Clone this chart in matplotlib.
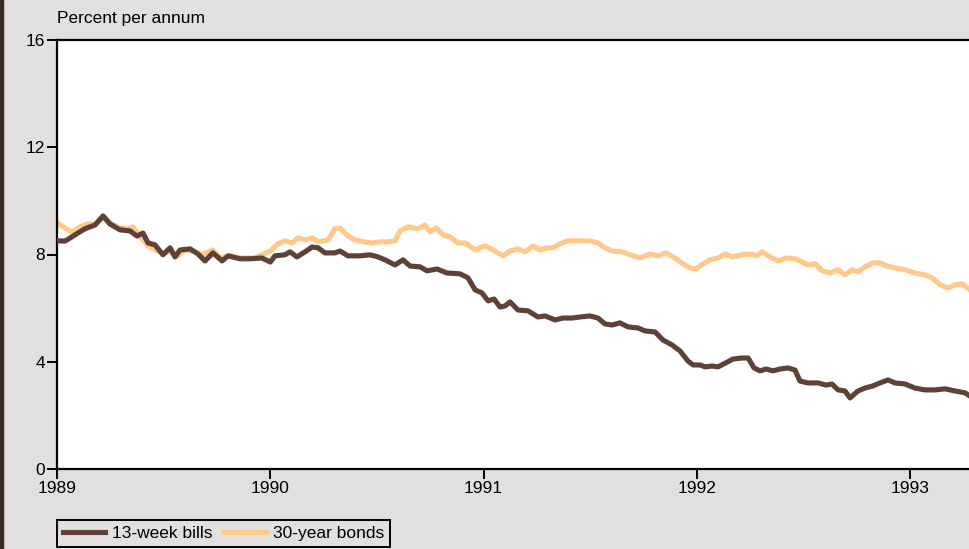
import matplotlib
matplotlib.use("Agg")
import matplotlib.pyplot as plt
import numpy as np

plt.rcParams['font.family'] = ['Liberation Sans', 'DejaVu Sans']

# years since January 1989
bills_t = [0.000, 0.038, 0.084, 0.131, 0.178, 0.216, 0.248, 0.295, 0.342, 0.375,
           0.403, 0.427, 0.459, 0.497, 0.530, 0.553, 0.577, 0.624, 0.661, 0.694,
           0.731, 0.774, 0.802, 0.858, 0.905, 0.961, 1.000, 1.022, 1.069, 1.092,
           1.125, 1.163, 1.196, 1.224, 1.256, 1.303, 1.327, 1.364, 1.421, 1.467,
           1.505, 1.538, 1.585, 1.622, 1.655, 1.702, 1.735, 1.782, 1.828, 1.889,
           1.927, 1.960, 1.992, 2.021, 2.049, 2.077, 2.100, 2.124, 2.161, 2.208,
           2.255, 2.288, 2.335, 2.372, 2.414, 2.452, 2.499, 2.536, 2.569, 2.602,
           2.639, 2.677, 2.724, 2.757, 2.804, 2.841, 2.883, 2.921, 2.958, 2.982,
           3.015, 3.038, 3.071, 3.099, 3.136, 3.169, 3.211, 3.240, 3.268, 3.296,
           3.324, 3.357, 3.390, 3.427, 3.460, 3.483, 3.521, 3.568, 3.605, 3.633,
           3.662, 3.694, 3.718, 3.755, 3.788, 3.826, 3.858, 3.896, 3.929, 3.976,
           4.022, 4.069, 4.116, 4.163, 4.210, 4.257, 4.280]
bills = [8.51, 8.50, 8.73, 8.96, 9.10, 9.44, 9.14, 8.92, 8.88, 8.69,
         8.80, 8.43, 8.36, 7.99, 8.25, 7.91, 8.17, 8.21, 8.02, 7.76,
         8.06, 7.76, 7.95, 7.84, 7.84, 7.87, 7.72, 7.95, 7.99, 8.10,
         7.91, 8.10, 8.28, 8.25, 8.06, 8.06, 8.13, 7.95, 7.95, 7.99,
         7.91, 7.80, 7.61, 7.80, 7.57, 7.54, 7.39, 7.46, 7.31, 7.28,
         7.13, 6.68, 6.57, 6.27, 6.34, 6.04, 6.08, 6.23, 5.93, 5.90,
         5.67, 5.71, 5.56, 5.63, 5.63, 5.67, 5.71, 5.63, 5.41, 5.37,
         5.45, 5.30, 5.26, 5.15, 5.11, 4.81, 4.63, 4.40, 4.03, 3.88,
         3.88, 3.81, 3.84, 3.81, 3.96, 4.10, 4.14, 4.14, 3.77, 3.66,
         3.73, 3.66, 3.73, 3.77, 3.69, 3.28, 3.21, 3.21, 3.13, 3.17,
         2.95, 2.91, 2.65, 2.91, 3.02, 3.10, 3.21, 3.32, 3.21, 3.17,
         3.02, 2.95, 2.95, 2.99, 2.91, 2.84, 2.72]

bonds_t = [0.000, 0.038, 0.070, 0.108, 0.145, 0.183, 0.216, 0.258, 0.295, 0.333,
           0.356, 0.389, 0.427, 0.459, 0.497, 0.530, 0.567, 0.600, 0.647, 0.680,
           0.731, 0.764, 0.811, 0.858, 0.928, 0.961, 1.000, 1.036, 1.069, 1.102,
           1.130, 1.163, 1.196, 1.224, 1.271, 1.303, 1.327, 1.364, 1.397, 1.444,
           1.477, 1.514, 1.552, 1.585, 1.608, 1.646, 1.692, 1.725, 1.749, 1.777,
           1.810, 1.842, 1.880, 1.917, 1.960, 1.983, 2.007, 2.044, 2.091, 2.124,
           2.161, 2.194, 2.232, 2.264, 2.297, 2.325, 2.358, 2.396, 2.443, 2.499,
           2.536, 2.569, 2.602, 2.649, 2.686, 2.733, 2.780, 2.818, 2.855, 2.897,
           2.935, 2.968, 2.996, 3.029, 3.061, 3.099, 3.132, 3.165, 3.211, 3.249,
           3.282, 3.305, 3.343, 3.380, 3.418, 3.460, 3.483, 3.521, 3.554, 3.587,
           3.624, 3.662, 3.694, 3.727, 3.755, 3.788, 3.826, 3.858, 3.891, 3.929,
           3.976, 4.022, 4.069, 4.102, 4.140, 4.177, 4.210, 4.243, 4.280]
bonds = [9.18, 8.99, 8.84, 9.03, 9.14, 9.14, 9.37, 9.14, 8.99, 8.96,
         9.03, 8.69, 8.32, 8.17, 8.06, 8.10, 7.95, 8.17, 8.10, 7.99,
         8.17, 7.87, 7.95, 7.87, 7.87, 7.99, 8.13, 8.40, 8.51, 8.43,
         8.62, 8.54, 8.62, 8.47, 8.54, 8.96, 8.99, 8.69, 8.54, 8.47,
         8.43, 8.47, 8.47, 8.51, 8.88, 9.03, 8.96, 9.10, 8.84, 8.99,
         8.73, 8.66, 8.43, 8.43, 8.17, 8.25, 8.32, 8.17, 7.95, 8.13,
         8.21, 8.10, 8.32, 8.17, 8.25, 8.25, 8.40, 8.51, 8.51, 8.51,
         8.43, 8.25, 8.13, 8.10, 7.99, 7.87, 8.02, 7.95, 8.06, 7.87,
         7.65, 7.50, 7.46, 7.65, 7.80, 7.87, 8.02, 7.91, 7.99, 8.02,
         7.95, 8.10, 7.91, 7.76, 7.87, 7.84, 7.76, 7.61, 7.65, 7.39,
         7.31, 7.43, 7.24, 7.43, 7.35, 7.54, 7.69, 7.69, 7.57, 7.50,
         7.43, 7.31, 7.24, 7.13, 6.87, 6.75, 6.87, 6.90, 6.68]

year_ticks = [1989, 1990, 1991, 1992, 1993]
y_ticks = [0, 4, 8, 12, 16]

bg = '#e2e0de'
bills_color = '#5e4238'
bonds_color = '#fec98b'

fig = plt.figure(figsize=(9.7, 5.49), dpi=100, facecolor=bg)
ax = fig.add_axes([57 / 970, 1 - 469 / 549, 1 - 57 / 970, (469 - 40) / 549])
ax.set_facecolor('white')

# dark strip on the left edge
fig.patches.append(plt.Rectangle((0, 0), 3 / 970, 1, transform=fig.transFigure,
                                 color='#3b2b26', zorder=0))

ax.plot(1989 + np.array(bonds_t), bonds, color=bonds_color, lw=3.7,
        label='30-year bonds', zorder=2, solid_joinstyle='round')
ax.plot(1989 + np.array(bills_t), bills, color=bills_color, lw=3.7,
        label='13-week bills', zorder=3, solid_joinstyle='round')

ax.set_xlim(1989, 1989.0 + 913 / 213.3)
ax.set_ylim(0, 16)
ax.set_xticks(year_ticks)
ax.set_xticklabels([str(y) for y in year_ticks])
ax.set_yticks(y_ticks)

for s in ['left', 'top', 'bottom']:
    ax.spines[s].set_linewidth(1.6)
    ax.spines[s].set_color('black')
ax.spines['right'].set_visible(False)

ax.tick_params(axis='y', direction='out', length=7, width=1.4, pad=1.5, labelsize=12.5)
ax.tick_params(axis='x', direction='out', length=7, width=1.4, pad=1.5, labelsize=12.5)

fig.text(57 / 970, 1 - 18 / 549, 'Percent per annum', ha='left', va='center', fontsize=12.5)

handles, labels = ax.get_legend_handles_labels()
leg = fig.legend(handles[::-1], labels[::-1], loc='upper left',
                 bbox_to_anchor=(57 / 970, 1 - 520 / 549), ncol=2, frameon=True,
                 fancybox=False, edgecolor='black', facecolor=bg, fontsize=12.5,
                 handlelength=2.4, columnspacing=0.7, handletextpad=0.4,
                 borderpad=0.35, borderaxespad=0)
leg.get_frame().set_linewidth(1.4)
leg.get_frame().set_alpha(1)

fig.savefig('out.png', dpi=100, facecolor=bg)
